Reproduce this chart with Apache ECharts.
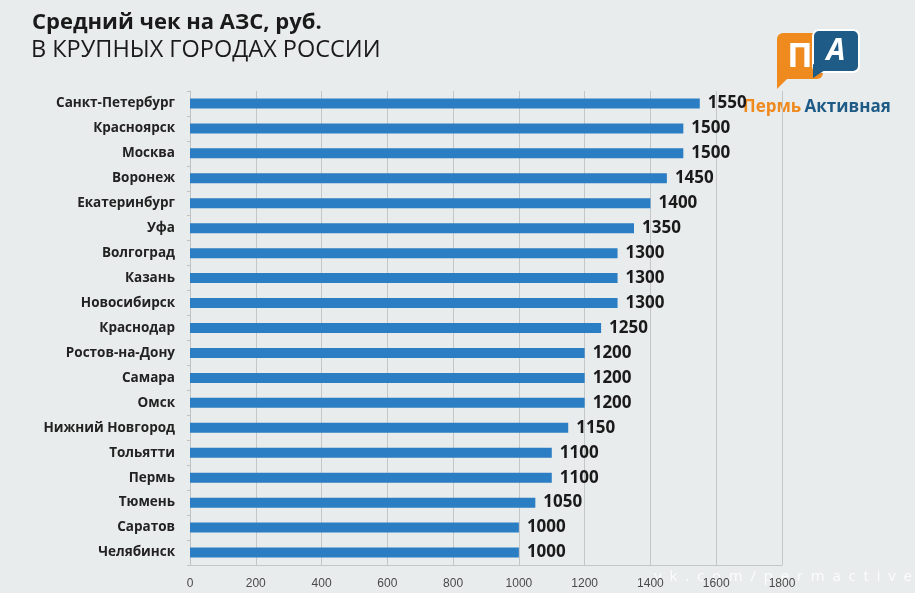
<!DOCTYPE html>
<html>
<head>
<meta charset="utf-8">
<script src="https://cdn.jsdelivr.net/npm/echarts@6/dist/echarts.min.js"></script>
<style>
html,body{margin:0;padding:0;background:#e9ecec;}
#chart{width:915px;height:593px;}
</style>
</head>
<body>
<div id="chart"></div>
<script>
const cities = ['Санкт-Петербург','Красноярск','Москва','Воронеж','Екатеринбург','Уфа','Волгоград','Казань','Новосибирск','Краснодар','Ростов-на-Дону','Самара','Омск','Нижний Новгород','Тольятти','Пермь','Тюмень','Саратов','Челябинск'];
const avgCheck = [1550,1500,1500,1450,1400,1350,1300,1300,1300,1250,1200,1200,1200,1150,1100,1100,1050,1000,1000];
const xTicks = [0,200,400,600,800,1000,1200,1400,1600,1800];
const titleText = 'Средний чек на АЗС, руб.';
const subtitleText = 'В КРУПНЫХ ГОРОДАХ РОССИИ';

const chart = echarts.init(document.getElementById('chart'));
chart.setOption({
  backgroundColor: '#e9ecec',
  animation: false,
  title: [
    {text: titleText, left: 27, top: 7, textStyle: {fontFamily: 'Open Sans', fontWeight: 'bold', fontSize: 22, color: '#1a1a1a'}},
    {text: subtitleText, left: 26, top: 33, textStyle: {fontFamily: 'Open Sans', fontWeight: 'normal', fontSize: 23.5, color: '#1a1a1a'}}
  ],
  grid: {left: 190, right: 133, top: 91, bottom: 28, containLabel: false},
  xAxis: {
    type: 'value', min: 0, max: 1800, interval: 200,
    axisLine: {show: true, lineStyle: {color: '#c4c7c7'}},
    axisTick: {show: false},
    splitLine: {show: true, lineStyle: {color: '#c4c7c7', width: 1}},
    axisLabel: {fontFamily: 'Liberation Sans Narrow, Liberation Sans', fontSize: 12, color: '#4a4a4a', margin: 13,
      formatter: v => xTicks.includes(v) ? String(v) : ''}
  },
  yAxis: {
    type: 'category', data: cities, inverse: true,
    axisLine: {show: true, lineStyle: {color: '#bfc3c3'}},
    axisTick: {show: true, length: 3, lineStyle: {color: '#bfc3c3'}},
    axisLabel: {fontFamily: 'Open Sans', fontWeight: 'bold', fontSize: 13.5, color: '#222', margin: 15}
  },
  series: [{
    type: 'bar', data: avgCheck, barWidth: 10,
    itemStyle: {color: '#2b7ec3'},
    label: {show: true, position: 'right', distance: 8, fontFamily: 'Open Sans', fontWeight: 'bold', fontSize: 17, color: '#1a1a1a'}
  }],
  graphic: [
    {type: 'text', right: 3, top: 569, style: {text: 'v  k  .  c  o  m  /  p  e  r  m  a  c  t  i  v  e', fill: 'rgba(255,255,255,0.85)', font: '15px Open Sans'}},
    {type: 'group', left: 777, top: 29, children: [
      {type: 'rect', shape: {x: 2, y: 4, width: 46, height: 46, r: 6}, style: {fill: '#ef8a1f'}},
      {type: 'polygon', shape: {points: [[2, 42], [2, 60], [14, 48]]}, style: {fill: '#ef8a1f'}},
      {type: 'text', style: {x: 25, y: 28, text: 'П', fill: '#fff', font: 'bold 34px Open Sans', align: 'center', verticalAlign: 'middle'}},
      {type: 'rect', shape: {x: 38, y: 1, width: 46, height: 42, r: 6}, style: {fill: '#1f5b87', stroke: '#fff', lineWidth: 2}},
      {type: 'polygon', shape: {points: [[38, 35], [38, 49], [50, 41]]}, style: {fill: '#1f5b87'}},
      {type: 'text', style: {x: 61, y: 22, text: 'А', fill: '#fff', font: 'italic bold 30px Open Sans', align: 'center', verticalAlign: 'middle'}}
    ]},
    {type: 'text', left: 743, top: 99, style: {rich: {
      a: {fill: '#ef8a1f', font: 'bold 17px Open Sans'},
      b: {fill: '#1f5b87', font: 'bold 17px Open Sans'}
    }, text: '{a|Пермь} {b|Активная}'}}
  ]
});
</script>
</body>
</html>
